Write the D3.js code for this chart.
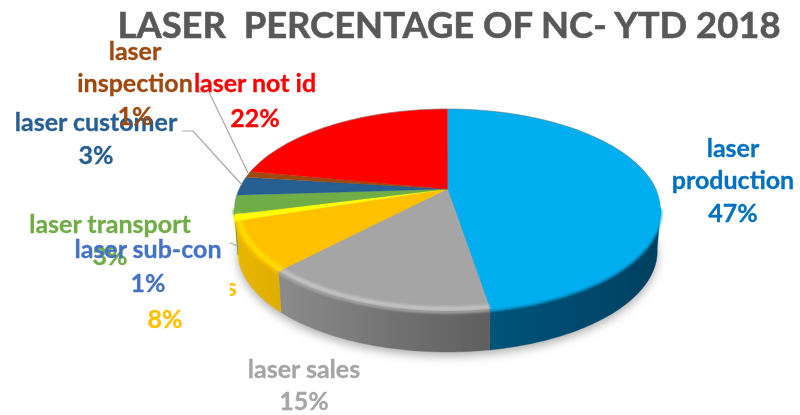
<!DOCTYPE html>
<html><head><meta charset="utf-8">
<script src="https://cdnjs.cloudflare.com/ajax/libs/d3/7.8.5/d3.min.js"></script>
<style>html,body{margin:0;padding:0;background:#fff}svg{display:block}text{font-family:Lato,"Open Sans",sans-serif;font-weight:700}</style>
</head><body><svg id="c" width="800" height="415"></svg>
<script>
const titleText = "LASER  PERCENTAGE OF NC- YTD 2018";
const categories = ["laser production","laser sales","laser unknown","laser sub-con","laser transport","laser customer","laser inspection","laser not id"];
const values = [47.4,14.7,7.9,1,3,3,1,22];
const sliceColors = ["#00ADEF","#A5A5A5","#FFC000","#FFFF00","#70AD47","#255E91","#9E480E","#FF0000"];
const wallStart = ["#00405f","#8c8c8c","#e8b600","#e0d800","#5a8f38","#1c4a72","#7a380a","#cc0000"];
const wallMid = ["#004a6e","#747474","#e4b200","#e0d800","#5a8f38","#1c4a72","#7a380a","#cc0000"];
const wallEnd = ["#00537a","#5f5f5f","#e0ae00","#e0d800","#5a8f38","#1c4a72","#7a380a","#cc0000"];

const labelLayout = [
 {lines:["laser","production","47%"],x:733,y:[157,189,222],c:"#0070C0"},
 {lines:["laser sales","15%"],x:304,y:[378,410],c:"#A5A5A5"},
 {lines:["8%"],x:165,y:[328],c:"#FFC000"},
 {lines:["laser transport","3%"],x:110,y:[233,265],c:"#70AD47"},
 {lines:["laser sub-con","1%"],x:148,y:[258,292],c:"#4472C4"},
 {lines:["laser customer","3%"],x:96,y:[131,164],c:"#255E91"},
 {lines:["laser","inspection","1%"],x:135,y:[60,92,125],c:"#9E480E"},
 {lines:["laser not id","22%"],x:255,y:[92,127],c:"#FF0000"}
];
const leaderLines = [
 [[182,131],[193,131],[242,185]],
 [[197,92],[209,92],[248,173]],
 [[230,243],[241,247]]
];

const svgRoot = d3.select("#c");
const defs = svgRoot.append("defs");
const blur = (id,s)=>defs.append("filter").attr("id",id).attr("filterUnits","userSpaceOnUse")
  .attr("x",0).attr("y",0).attr("width",800).attr("height",415)
  .append("feGaussianBlur").attr("stdDeviation",s);
blur("shadow",5); blur("soft",1.8); blur("edge",1.1); blur("all",0.4);
const svg = svgRoot.append("g").attr("filter","url(#all)");

// perspective projection of the pie disc
const cx=447.5, apexY=189, persp=-0.208, ky=57.3, kx=208.3, depth=41;
function project(angle,r,drop=0,shrink=1){
  const u=r*Math.sin(angle), v=-r*Math.cos(angle), w=1+persp*v;
  return [cx+shrink*kx*u/w, (ky*v+apexY)/w+drop];
}
const line=d3.line();
const STEP=Math.PI/180;
function arcPts(a0,a1,r=1,drop=0,shrink=1){
  const n=Math.max(2,Math.ceil((a1-a0)/STEP));
  return d3.range(n+1).map(i=>project(a0+(a1-a0)*i/n,r,drop,shrink));
}
const arcs=d3.pie().sort(null).value(d=>d)(values);
const front0=Math.PI*0.56, front1=Math.PI*1.44;

// shadow
svg.append("path").attr("d",line(arcPts(0,2*Math.PI,1,depth+4,0.985))+"Z")
  .attr("fill","#b0b0b0").attr("filter","url(#shadow)");

// side wall
arcs.forEach((a,i)=>{
  const s=Math.max(a.startAngle,front0), e=Math.min(a.endAngle,front1);
  if(e<=s) return;
  const top=arcPts(s,e), bot=arcPts(s,e,1,depth,0.985).reverse();
  const id="w"+i;
  const xs=[top[0][0],top[top.length-1][0]];
  const g=defs.append("linearGradient").attr("id",id).attr("gradientUnits","userSpaceOnUse")
    .attr("x1",d3.min(xs)).attr("x2",d3.max(xs)).attr("y1",0).attr("y2",0);
  const ramp=i===0?[wallEnd[i],wallMid[i],wallStart[i]]:[wallStart[i],wallMid[i],wallEnd[i]];
  ramp.forEach((c,k)=>g.append("stop").attr("offset",k/2).attr("stop-color",c));
  svg.append("path").attr("d",line(top.concat(bot))+"Z").attr("fill",`url(#${id})`).attr("stroke",`url(#${id})`).attr("stroke-width",0.4);
});

// soft spill of the face colour onto the wall
arcs.forEach((a,i)=>{
  const s=Math.max(a.startAngle,front0), e=Math.min(a.endAngle,front1);
  if(e<=s) return;
  svg.append("path").attr("d",line(arcPts(s,e,1,1)))
    .attr("fill","none").attr("stroke",sliceColors[i]).attr("stroke-width",3).attr("filter","url(#edge)");
});

// top face
const face=svg.append("g");
arcs.forEach((a,i)=>{
  const pts=[project(0,0)].concat(arcPts(a.startAngle,a.endAngle));
  face.append("path").attr("d",line(pts)+"Z").attr("fill",sliceColors[i]).attr("stroke",sliceColors[i]).attr("stroke-width",0.3);
});
defs.append("clipPath").attr("id","disc").append("path").attr("d",line(arcPts(0,2*Math.PI))+"Z");

// bevel band along the front edge
const bevel=svg.append("g").attr("clip-path","url(#disc)");
const bevelColors=[null,"#d4d4d4","#FFDC00","#FFFF00",null,null,null,null];
arcs.forEach((a,i)=>{
  if(!bevelColors[i]) return;
  bevel.append("path").attr("d",line(arcPts(a.startAngle,a.endAngle,0.985)))
    .attr("fill","none").attr("stroke",bevelColors[i]).attr("stroke-width",i==1?4:6)
    .attr("opacity",i==1?0.7:1).attr("filter","url(#soft)");
});
// back rim
svg.append("path").attr("d",line(arcPts(-1.75,1.6)))
  .attr("fill","none").attr("stroke","#7a7a7a").attr("stroke-opacity",0.6).attr("stroke-width",0.9);

// leader lines
svg.append("g").selectAll("path").data(leaderLines).join("path")
  .attr("d",d=>line(d)).attr("fill","none").attr("stroke","#A6A6A6").attr("stroke-width",1.2);

// clipped fragment of the hidden label
defs.append("clipPath").attr("id","frag").append("rect").attr("x",230).attr("y",270).attr("width",20).attr("height",40);
svg.append("text").attr("x",226).attr("y",296).attr("font-size",25).attr("fill","#FFC000").attr("clip-path","url(#frag)").text("s");

// data labels
labelLayout.forEach(l=>{
  const g=svg.append("g").attr("fill",l.c).attr("text-anchor","middle").attr("font-size",25).attr("stroke",l.c).attr("stroke-width",0.3);
  l.lines.forEach((t,i)=>g.append("text").attr("x",l.x).attr("y",l.y[i]).text(t));
});
// title
svg.append("text").attr("x",449).attr("y",38).attr("text-anchor","middle").attr("font-size",36.4)
  .attr("fill","#595959").attr("stroke","#595959").attr("stroke-width",0.6).style("white-space","pre").text(titleText);
</script></body></html>
